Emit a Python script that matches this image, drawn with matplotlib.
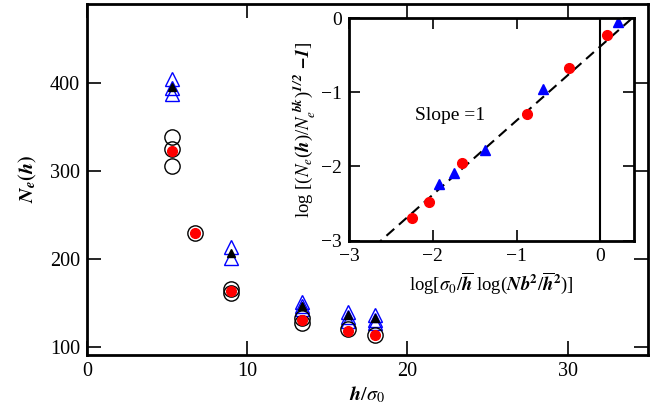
import matplotlib
matplotlib.use('Agg')
import matplotlib.pyplot as plt
import numpy as np

plt.rcParams['font.family'] = ['Liberation Serif', 'DejaVu Serif']
plt.rcParams['mathtext.fontset'] = 'stix'

# main panel: h/sigma0 columns
h_tri = [5.3, 5.3, 5.3, 9.0, 9.0, 13.4, 13.4, 13.4, 16.3, 16.3, 16.3, 18.0, 18.0, 18.0]
ne_tri = [405, 394, 388, 214, 201, 151, 147, 143, 140, 134, 129, 136, 131, 127]
h_tri_f = [5.3, 9.0, 13.4, 16.3, 18.0]
ne_tri_f = [395, 207, 146, 136, 133]
h_circ = [5.3, 5.3, 5.3, 6.75, 9.0, 9.0, 13.4, 13.4, 16.3, 18.0]
ne_circ = [339, 325, 306, 229, 166, 161, 133, 127, 120, 114]
h_red = [5.3, 6.75, 9.0, 13.4, 16.3, 18.0]
ne_red = [323, 229, 164, 131, 118, 114]

# inset: scaled data
ins_red_x = [-2.25, -2.04, -1.65, -0.88, -0.37, 0.08]
ins_red_y = [-2.70, -2.48, -1.95, -1.29, -0.67, -0.23]
ins_tri_x = [-1.93, -1.75, -1.38, -0.69, 0.21]
ins_tri_y = [-2.23, -2.09, -1.78, -0.95, -0.06]
fit_slope = 1.0
fit_icpt = -0.38

fig = plt.figure(figsize=(6.59, 4.17), dpi=100)
ax = fig.add_axes([0.132, 0.149, 0.851, 0.842])

ax.plot(h_tri, ne_tri, '^', ms=10, mfc='none', mec='blue', mew=1.0)
ax.plot(h_tri_f, ne_tri_f, '^', ms=6, color='black')
ax.plot(h_circ, ne_circ, 'o', ms=11, mfc='none', mec='black', mew=1.0)
ax.plot(h_red, ne_red, 'o', ms=7, color='red', mec='red')

ax.set_xlim(0, 35)
ax.set_ylim(91, 490)
ax.set_xticks([0, 10, 20, 30])
ax.set_yticks([100, 200, 300, 400])
ax.tick_params(direction='in', top=True, right=True, length=10, width=1.2, labelsize=14.5, pad=5)
for s in ax.spines.values():
    s.set_linewidth(2)
ax.set_xlabel(r'$\mathbfit{h}/\sigma_0$', fontsize=14.5, labelpad=3)
ax.set_ylabel(r'$\mathbfit{N_e}\mathbf{(}\mathbfit{h}\mathbf{)}$', fontsize=14.5, labelpad=8)

ins = fig.add_axes([0.5296, 0.4228, 0.4325, 0.534])
xs = np.array([-3.0, 0.4])
ins.plot(xs, fit_slope * xs + fit_icpt, '--', color='black', lw=1.5, dashes=(5, 3))
ins.axvline(0, color='black', lw=1.5)
ins.plot(ins_red_x, ins_red_y, 'o', ms=7, color='red')
ins.plot(ins_tri_x, ins_tri_y, '^', ms=7, color='blue')
ins.text(-1.8, -1.31, 'Slope =1', fontsize=14, ha='center', va='center')
ins.set_xlim(-3, 0.4)
ins.set_ylim(-3, 0)
ins.set_xticks([-3, -2, -1, 0])
ins.set_yticks([-3, -2, -1, 0])
ins.tick_params(direction='in', top=True, right=True, length=8, width=1.2, labelsize=14, pad=5)
for s in ins.spines.values():
    s.set_linewidth(2)
ins.set_xlabel(r'log[$\sigma_0/\overline{\mathbfit{h}}$ log($\mathbfit{Nb}^{\mathbf{2}}/\overline{\mathbfit{h}}^{\mathbf{2}}$)]',
               fontsize=13.5, labelpad=4)
ins.set_ylabel(r'log [($N_e$($\mathbfit{h}$)/$N_e^{\ \mathbfit{bk}}$)$^{\mathbfit{1/2}}$ $\mathbfit{-1}$]',
               fontsize=13.5, labelpad=2)

fig.savefig('out.png', dpi=100)
